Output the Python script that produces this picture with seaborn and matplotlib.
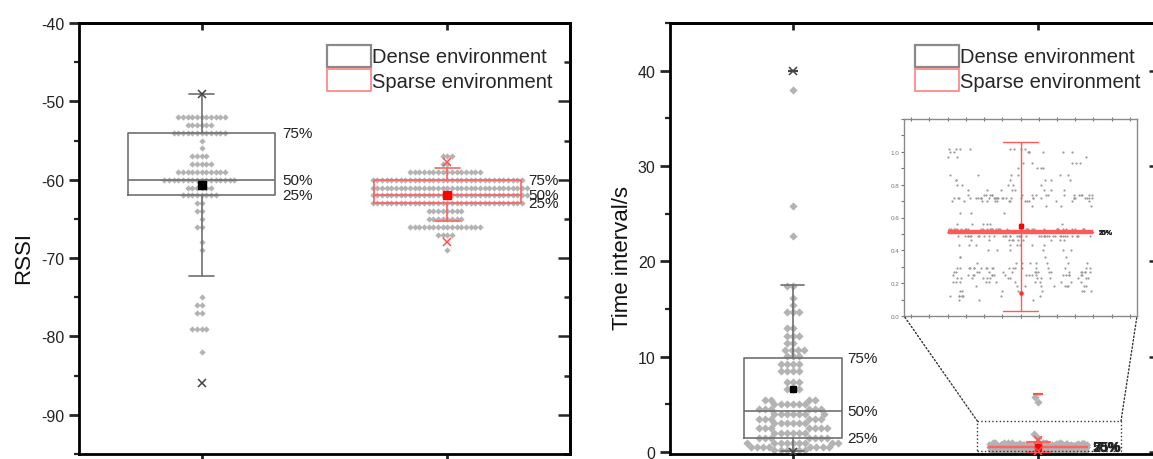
"""Box charts of RSSI and time interval, dense vs sparse environment."""
import matplotlib
matplotlib.use("Agg")
import matplotlib.pyplot as plt
import numpy as np
import pandas as pd
import seaborn as sns
from matplotlib.patches import Patch, Rectangle, ConnectionPatch
from matplotlib.ticker import MultipleLocator, FixedLocator, FormatStrFormatter

ENVS = ["Dense environment", "Sparse environment"]

# RSSI samples: level -> number of points in that swarm row
DENSE_RSSI_LEVELS = [-52, -53, -54, -55, -56, -57, -58, -59, -60, -61, -62,
                     -63, -64, -65, -66, -68, -69, -75, -76, -77, -79, -82]
DENSE_RSSI_COUNTS = [11, 6, 12, 1, 1, 4, 5, 11, 16, 6, 8,
                     2, 2, 1, 2, 1, 1, 1, 2, 2, 4, 1]
SPARSE_RSSI_LEVELS = [-57, -58, -59, -60, -61, -62, -63, -64, -65, -66, -67, -69]
SPARSE_RSSI_COUNTS = [3, 2, 16, 33, 34, 34, 33, 8, 8, 16, 4, 1]

# RSSI box statistics (dense, sparse)
RSSI_Q1 = [-62.0, -63.0]
RSSI_MED = [-60.0, -62.0]
RSSI_Q3 = [-54.0, -60.0]
RSSI_MEAN = [-60.7, -62.0]
RSSI_WHISLO = [-72.3, -65.3]
RSSI_WHISHI = [-49.0, -58.5]
RSSI_P1 = [-86.0, -68.0]
RSSI_P99 = [-49.0, -57.8]

# time interval samples (s)
DENSE_TIME_LEVELS = [38.0, 25.8, 22.7, 17.4, 16.2, 15.4, 14.7, 13.0, 12.2, 11.4,
                     10.7, 10.1, 9.2, 8.5, 7.4, 6.6, 5.5, 5.0, 4.5, 4.0,
                     3.5, 3.0, 2.5, 2.0, 1.5, 1.0, 0.5, 0.2]
DENSE_TIME_COUNTS = [1, 1, 1, 2, 1, 1, 3, 2, 3, 2,
                     4, 3, 4, 4, 3, 3, 4, 6, 6, 7,
                     6, 6, 7, 6, 7, 9, 8, 6]
# sparse: the bulk (shown in the inset) and the few larger intervals
SPARSE_TIME_LEVELS = [1.02, 1.0, 0.97, 0.93, 0.9, 0.86,
                      0.83, 0.8, 0.77, 0.74, 0.72, 0.7, 0.67, 0.63, 0.56, 0.53,
                      0.51, 0.49, 0.46, 0.43, 0.4, 0.36, 0.32, 0.29, 0.27, 0.25,
                      0.23, 0.21, 0.18, 0.15, 0.12, 0.1]
SPARSE_TIME_COUNTS = [8, 8, 3, 5, 4, 6,
                      6, 5, 8, 18, 30, 14, 4, 3, 8, 40,
                      120, 40, 10, 8, 6, 4, 8, 20, 18, 18,
                      14, 12, 10, 8, 8, 3]
SPARSE_TIME_TAIL = [5.8, 5.3, 1.9, 1.5]

# time interval box statistics (dense, sparse)
TIME_Q1 = [1.5, 0.51]
TIME_MED = [4.3, 0.51]
TIME_Q3 = [9.9, 0.51]
TIME_MEAN = [6.6, 0.55]
TIME_WHISLO = [0.1, 0.03]
TIME_WHISHI = [17.5, 1.06]
TIME_P1 = [0.0, 0.14]
TIME_P99 = [40.0, 1.3]
TIME_MAX = [40.0, 6.1]

POINT_GRAY = "#b3b3b3"
DENSE_LINE = "#707070"
SPARSE_LINE = "#ff6262"
W, H = 1153, 460

sns.set_style("ticks")
plt.rcParams["font.family"] = ["Liberation Sans", "DejaVu Sans"]
plt.rcParams["axes.linewidth"] = 2.0
plt.rcParams["axes.edgecolor"] = "black"
plt.rcParams["axes.unicode_minus"] = False

fig = plt.figure(figsize=(W / 100, H / 100), dpi=100)
ax1 = fig.add_axes([79 / W, 5 / H, 491 / W, 431 / H])
ax2 = fig.add_axes([670 / W, 5 / H, 491 / W, 431 / H])
ax_in = fig.add_axes([904 / W, 143 / H, 233 / W, 197 / H])


def draw_box(ax, pos, q1, med, q3, mean, lo, hi, color, mean_color,
             width, capwidth, lw=1.2, medlw=1.2, mean_size=5.5):
    stats = [dict(q1=q1, med=med, q3=q3, mean=mean, whislo=lo, whishi=hi)]
    ax.bxp(stats, positions=[pos], widths=[width], capwidths=[capwidth],
           showmeans=True, showfliers=False, manage_ticks=False, zorder=3,
           boxprops=dict(color=color, lw=lw),
           whiskerprops=dict(color=color, lw=lw),
           capprops=dict(color=color, lw=lw),
           medianprops=dict(color=color, lw=medlw),
           meanprops=dict(marker="s", markerfacecolor=mean_color,
                          markeredgecolor=mean_color, markersize=mean_size))


def pct_labels(ax, pos, width, q1, med, q3, size=11, weight="normal", dx=5):
    for val, txt in [(q3, "75%"), (med, "50%"), (q1, "25%")]:
        ax.annotate(txt, (pos + width / 2, val), xytext=(dx, 0),
                    textcoords="offset points", ha="left", va="center",
                    fontsize=size, fontweight=weight, color="#222222",
                    zorder=4)


def frame_ticks(ax, major, minor):
    ax.set_xticks([0, 1])
    ax.set_xticklabels([])
    ax.set_xlabel("")
    ax.set_ylabel("")
    ax.yaxis.set_major_locator(MultipleLocator(major))
    ax.yaxis.set_minor_locator(MultipleLocator(minor))
    ax.tick_params(axis="y", which="major", direction="out", length=7,
                   width=2, labelsize=11.5, labelcolor="#222222")
    ax.tick_params(axis="y", which="minor", direction="out", length=3.5,
                   width=1.6)
    ax.tick_params(axis="x", direction="out", length=5, width=2)
    top = ax.secondary_xaxis("top")
    top.set_xticks([0, 1])
    top.tick_params(direction="in", length=5, width=2, labeltop=False)
    right = ax.secondary_yaxis("right")
    right.yaxis.set_major_locator(MultipleLocator(major))
    right.yaxis.set_minor_locator(MultipleLocator(minor))
    right.tick_params(which="major", direction="in", length=9, width=1.8,
                      labelright=False)
    right.tick_params(which="minor", direction="in", length=4.5, width=1.8)
    for s in ax.spines.values():
        s.set_linewidth(2.0)


def add_legend(ax, x0):
    handles = [Patch(facecolor="white", edgecolor="#8a8a8a", lw=1.6),
               Patch(facecolor="white", edgecolor="#ff8080", lw=1.2)]
    ax.legend(handles, ENVS, loc="upper left", bbox_to_anchor=(x0, 0.95),
              frameon=False, fontsize=14.5, handlelength=2.2, handleheight=1.3,
              handletextpad=0.05, labelspacing=0.12, borderpad=0,
              borderaxespad=0)


# ---------------- left: RSSI ----------------
rssi = pd.DataFrame({
    "env": [ENVS[0]] * sum(DENSE_RSSI_COUNTS) + [ENVS[1]] * sum(SPARSE_RSSI_COUNTS),
    "rssi": np.concatenate([np.repeat(DENSE_RSSI_LEVELS, DENSE_RSSI_COUNTS),
                            np.repeat(SPARSE_RSSI_LEVELS, SPARSE_RSSI_COUNTS)]),
})
sns.swarmplot(data=rssi, x="env", y="rssi", order=ENVS, color=POINT_GRAY,
              marker="D", size=3.2, linewidth=0, ax=ax1, zorder=1,
              warn_thresh=1)

box_colors = [(DENSE_LINE, "black"), (SPARSE_LINE, "#ff0000")]
for i, (lc, mc) in enumerate(box_colors):
    draw_box(ax1, i, RSSI_Q1[i], RSSI_MED[i], RSSI_Q3[i], RSSI_MEAN[i],
             RSSI_WHISLO[i], RSSI_WHISHI[i], lc, mc, width=0.6, capwidth=0.1,
             mean_size=5.5 if i == 0 else 6)
    xc = "#444444" if i == 0 else "#ff5050"
    ax1.plot([i, i], [RSSI_P1[i], RSSI_P99[i]], ls="none", marker="x",
             markersize=6, mew=1.1, color=xc, zorder=4)
    pct_labels(ax1, i, 0.6, RSSI_Q1[i], RSSI_MED[i], RSSI_Q3[i])

ax1.set_xlim(-0.5, 1.5)
ax1.set_ylim(-95, -40)
frame_ticks(ax1, 10, 5)
add_legend(ax1, 0.505)

# ---------------- right: time interval ----------------
time_dense = pd.DataFrame({"env": ENVS[0],
                           "t": np.repeat(DENSE_TIME_LEVELS, DENSE_TIME_COUNTS)})
time_sparse = pd.DataFrame({"env": ENVS[1],
                            "t": np.repeat(SPARSE_TIME_LEVELS, SPARSE_TIME_COUNTS)})
time_tail = pd.DataFrame({"env": ENVS[1], "t": SPARSE_TIME_TAIL})
sns.swarmplot(data=time_dense, x="env", y="t", order=ENVS, color=POINT_GRAY,
              marker="D", size=4.2, linewidth=0, ax=ax2, zorder=1,
              warn_thresh=1)
sns.stripplot(data=time_sparse, x="env", y="t", order=ENVS, color=POINT_GRAY,
              marker="D", size=3.3, linewidth=0, jitter=0.2, ax=ax2, zorder=1)
sns.swarmplot(data=time_tail, x="env", y="t", order=ENVS, color=POINT_GRAY,
              marker="D", size=4.2, linewidth=0, ax=ax2, zorder=1,
              warn_thresh=1)

for i, (lc, mc) in enumerate(box_colors):
    draw_box(ax2, i, TIME_Q1[i], TIME_MED[i], TIME_Q3[i], TIME_MEAN[i],
             TIME_WHISLO[i], TIME_WHISHI[i], lc, mc, width=0.4,
             capwidth=0.095, lw=1.2 if i == 0 else 1.6, mean_size=5)
    xc = "#444444" if i == 0 else "#ff5050"
    ax2.plot([i, i], [TIME_P1[i], TIME_P99[i]], ls="none", marker="x",
             markersize=6, mew=1.1, color=xc, zorder=4)
    ax2.plot([i], [TIME_MAX[i]], ls="none", marker="_", markersize=7,
             mew=1.6, color=xc, zorder=4)
    pct_labels(ax2, i, 0.4, TIME_Q1[i], TIME_MED[i], TIME_Q3[i],
               size=11 if i == 0 else 10, weight="normal" if i == 0 else "bold",
               dx=4)

ax2.set_xlim(-0.5, 1.5)
ax2.set_ylim(-0.2, 45.0)
frame_ticks(ax2, 10, 5)
add_legend(ax2, 0.499)

# zoom window and connectors
ax2.add_patch(Rectangle((0.752, 0.12), 0.585, 3.13, fill=False, ls=":",
                        lw=1.0, ec="#333333", zorder=5))
for xa, xb in [(0.752, 0.0), (1.337, 1.0)]:
    con = ConnectionPatch(xyA=(xa, 3.25), coordsA=ax2.transData,
                          xyB=(xb, 0.0), coordsB=ax_in.transAxes,
                          ls=":", lw=1.0, color="#333333")
    fig.add_artist(con)

# ---------------- inset: sparse time interval ----------------
sns.stripplot(data=time_sparse, x="env", y="t", order=[ENVS[1]],
              color="#9c9c9c", marker="o", size=1.6, linewidth=0,
              jitter=0.5, ax=ax_in, zorder=1)
draw_box(ax_in, 0, TIME_Q1[1], TIME_MED[1], TIME_Q3[1], 0.55,
         TIME_WHISLO[1], TIME_WHISHI[1], "#ff5a5a", "#ff0000", width=1.0,
         capwidth=0.24, lw=1.0, medlw=3.2, mean_size=2.2)
ax_in.plot([0], [TIME_P1[1]], ls="none", marker="o", markersize=2.2,
           color="#ff3030", zorder=4)
pct_labels(ax_in, 0, 1.0, TIME_Q1[1], TIME_MED[1], TIME_Q3[1], size=5,
           weight="bold", dx=4)
ax_in.set_xlim(-0.8, 0.8)
ax_in.set_ylim(0, 1.2)
ax_in.set_xlabel("")
ax_in.set_ylabel("")
ax_in.xaxis.set_major_locator(MultipleLocator(0.125))
ax_in.set_xticklabels([])
ax_in.yaxis.set_major_locator(FixedLocator([0.0, 0.2, 0.4, 0.6, 0.8, 1.0]))
ax_in.yaxis.set_minor_locator(MultipleLocator(0.1))
ax_in.yaxis.set_major_formatter(FormatStrFormatter("%.1f"))
ax_in.tick_params(axis="y", which="both", direction="out", length=2,
                  width=0.8, color="#777777", labelsize=4.5,
                  labelcolor="#777777", pad=1.5)
ax_in.tick_params(axis="x", direction="inout", length=3, width=0.8,
                  color="#777777", top=True, bottom=True)
for s in ax_in.spines.values():
    s.set_linewidth(1.0)
    s.set_edgecolor("#8a8a8a")

# axis titles
fig.text(24 / W, 1 - 258 / H, "RSSI", rotation=90, ha="center", va="center",
         fontsize=16, color="#111111")
fig.text(623 / W, 1 - 258 / H, "Time interval/s", rotation=90, ha="center",
         va="center", fontsize=16, color="#111111")

fig.savefig("out.png", dpi=100)
